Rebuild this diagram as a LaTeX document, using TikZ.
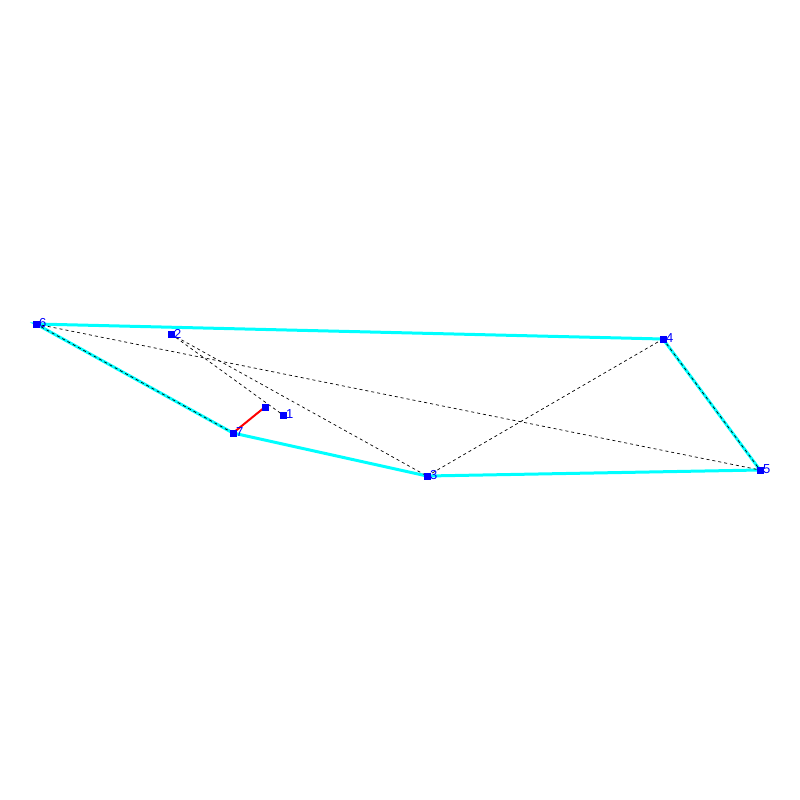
\documentclass[tikz,border=0pt]{standalone}
\usepackage{fontspec}
\setmainfont{Liberation Sans}
\definecolor{hullc}{RGB}{0,255,255}
\definecolor{ptc}{RGB}{0,0,255}
\definecolor{redc}{RGB}{255,0,0}
\begin{document}
\begin{tikzpicture}[x=1pt,y=-1pt,
  pt/.style={fill=ptc,minimum size=7pt,inner sep=0pt,outer sep=0pt},
  lab/.style={text=ptc,font=\fontsize{13}{13}\selectfont,inner sep=0pt,anchor=west},
  hull/.style={hullc,line width=3pt},
  dsh/.style={black,line width=0.7pt,dash pattern=on 3pt off 3pt},
  redl/.style={redc,line width=2pt}]
\useasboundingbox (0,0) rectangle (800,800);
\coordinate (p6) at (36,324);
\coordinate (p2) at (171,334);
\coordinate (p0) at (265,407);
\coordinate (p1) at (283,415);
\coordinate (p7) at (233,433);
\coordinate (p3) at (427,476);
\coordinate (p4) at (663,339);
\coordinate (p5) at (760,470);
\draw[hull] (p6) -- (p4) -- (p5) -- (p3) -- (p7) -- cycle;
\draw[dsh] (p6) -- (p7);
\draw[dsh] (p6) -- (p5);
\draw[dsh] (p2) -- (p1);
\draw[dsh] (p2) -- (p3);
\draw[dsh] (p3) -- (p4);
\draw[dsh] (p4) -- (p5);
\draw[redl] (p7) -- (p0);
\foreach \n in {6,2,0,1,7,3,4,5} \node[pt] (n\n) at (p\n) {};
\foreach \n in {6,2,1,7,3,4,5} \node[lab] (l\n) at ([xshift=3pt,yshift=0.5pt]p\n) {\n};
\end{tikzpicture}
\end{document}
